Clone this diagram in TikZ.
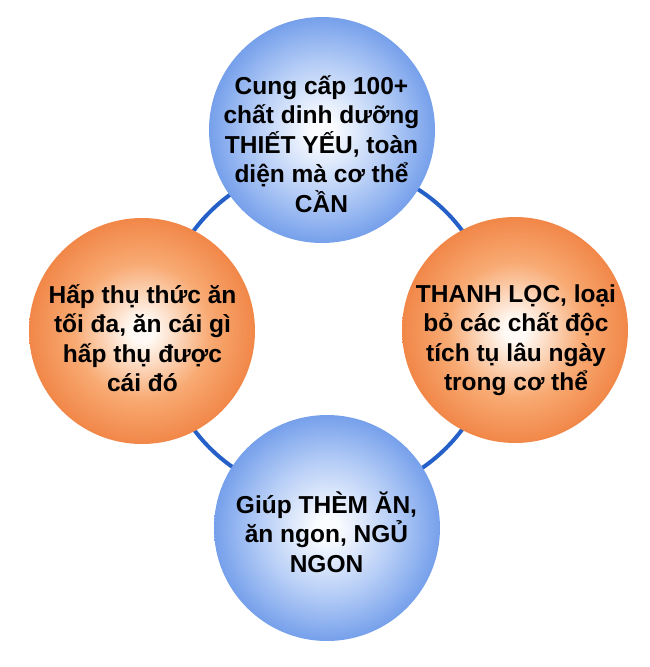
\documentclass[tikz,border=0pt]{standalone}
\usepackage{fontspec}
\setmainfont{Liberation Sans}
\definecolor{oc0}{RGB}{255,250,245}
\definecolor{oc1}{RGB}{248,170,115}
\definecolor{oc2}{RGB}{241,135,72}
\definecolor{bc0}{RGB}{250,252,255}
\definecolor{bc1}{RGB}{180,204,246}
\definecolor{bc2}{RGB}{118,160,235}
\definecolor{ringblue}{RGB}{36,96,200}
\pgfdeclareradialshading{orangeball}{\pgfpoint{0bp}{0bp}}{color(0bp)=(oc0); color(2.5bp)=(oc0); color(15bp)=(oc1); color(25bp)=(oc2); color(50bp)=(oc2)}
\pgfdeclareradialshading{blueball}{\pgfpoint{0bp}{0bp}}{color(0bp)=(bc0); color(2.5bp)=(bc0); color(15bp)=(bc1); color(25bp)=(bc2); color(50bp)=(bc2)}
\newcommand\balltext[1]{\vtop{\baselineskip=29.5pt\lineskiplimit=-100pt\lineskip=0pt\halign{\hfil##\hfil\cr#1\crcr}}}
\tikzset{
  ball/.style={circle, inner sep=0pt, minimum size=226pt, draw=none, shade, shading=#1},
  balllabel/.style={anchor=base, inner sep=0pt, font=\fontsize{24.5pt}{29.5pt}\selectfont\bfseries, text=black},
  ringline/.style={draw=ringblue, line width=4pt}
}
\begin{document}
\begin{tikzpicture}[x=1pt,y=-1pt]
\useasboundingbox (0,0) rectangle (650,667);
\node[circle, ringline, minimum size=334pt, inner sep=0pt] (ring) at (328,330) {};
\node[ball=blueball] (top) at (322,130) {};
\node[ball=orangeball] (left) at (142,331) {};
\node[ball=orangeball] (right) at (515,330) {};
\node[ball=blueball] (bottom) at (327,528) {};
\node[balllabel] (ttop) at (321.5,94) {\balltext{Cung cấp 100+\cr chất dinh dưỡng\cr THIẾT YẾU, toàn\cr diện mà cơ thể\cr CẦN}};
\node[balllabel] (tleft) at (142.5,303) {\balltext{Hấp thụ thức ăn\cr tối đa, ăn cái gì\cr hấp thụ được\cr cái đó}};
\node[balllabel] (tright) at (516,302) {\balltext{THANH LỌC, loại\cr bỏ các chất độc\cr tích tụ lâu ngày\cr trong cơ thể}};
\node[balllabel] (tbottom) at (326.5,513) {\balltext{Giúp THÈM ĂN,\cr ăn ngon, NGỦ\cr NGON}};
\end{tikzpicture}
\end{document}
